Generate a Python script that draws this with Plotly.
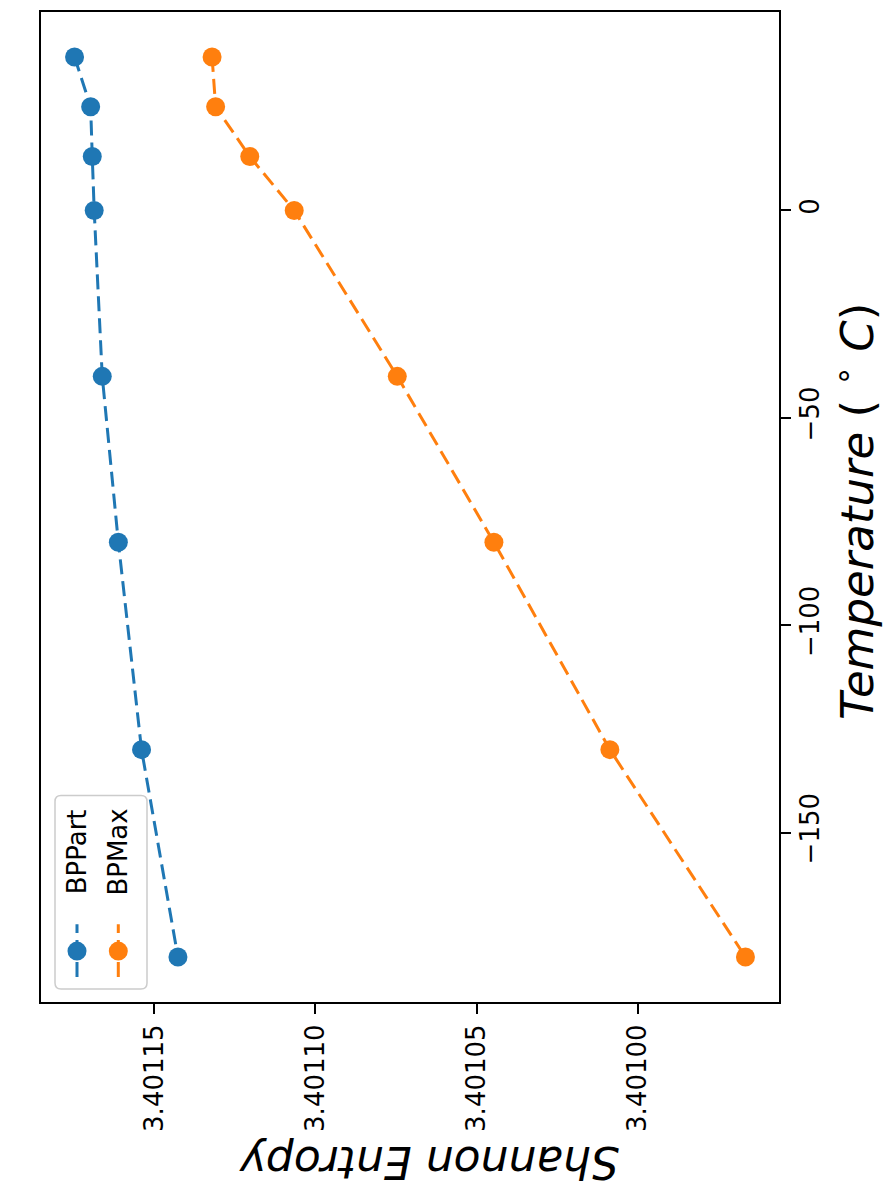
import plotly.graph_objects as go

# ---- data ----
temperature = [37, 25, 13, 0, -40, -80, -130, -180]
bppart = [3.4011748, 3.4011698, 3.4011693, 3.4011687, 3.4011662, 3.4011612, 3.4011540, 3.4011427]
bpmax = [3.4011321, 3.4011310, 3.4011204, 3.4011066, 3.4010746, 3.4010446, 3.4010086, 3.4009665]
series_names = ["BPPart", "BPMax"]
series_colors = ["#1f77b4", "#ff7f0e"]
entropy_ticks = [3.40100, 3.40105, 3.40110, 3.40115]
entropy_tick_labels = ["3.40100", "3.40105", "3.40110", "3.40115"]
temp_ticks = [-150, -100, -50, 0]
temp_tick_labels = ["\u2212150", "\u2212100", "\u221250", "0"]

# ---- layout geometry (pixels) ----
W, H = 884, 1198
L, R, T, B = 41, 779, 10, 1002
FONT = "DejaVu Sans"


def px(xp):
    return (xp - L) / (R - L)


def py(yp):
    return (B - yp) / (B - T)


def padded(vals):
    lo, hi = min(vals), max(vals)
    d = (hi - lo) * 0.05
    return lo - d, hi + d


elo, ehi = padded(bppart + bpmax)
tlo, thi = padded(temperature)

fig = go.Figure()
for name, vals, col in zip(series_names, [bppart, bpmax], series_colors):
    fig.add_trace(go.Scatter(
        x=vals, y=temperature, name=name, mode="lines+markers",
        line=dict(color=col, width=3, dash="15px,7px"),
        marker=dict(size=19, color=col),
        showlegend=False,
    ))

axis_common = dict(
    showline=True, linewidth=2, linecolor="black", mirror=True,
    ticks="outside", ticklen=10, tickwidth=2, tickcolor="black",
    showgrid=False, zeroline=False,
    tickfont=dict(family=FONT, size=26, color="black"),
    tickangle=-90,
)

fig.update_layout(
    width=W, height=H,
    margin=dict(l=L, r=W - R, t=T, b=H - B),
    paper_bgcolor="white", plot_bgcolor="white",
    xaxis=dict(range=[ehi, elo], tickvals=entropy_ticks, ticktext=entropy_tick_labels, **axis_common),
    yaxis=dict(range=[tlo, thi], side="right", tickvals=temp_ticks, ticktext=temp_tick_labels,
               ticklabelstandoff=-3, **axis_common),
    font=dict(family=FONT, color="black"),
)

# axis titles (rotated like the reference)
fig.add_annotation(xref="paper", yref="paper", x=px(429), y=py(1163),
                   text="<i>Shannon Entropy</i>", textangle=180, showarrow=False,
                   xanchor="center", yanchor="middle",
                   font=dict(family=FONT, size=44, color="black"))
fig.add_annotation(xref="paper", yref="paper", x=px(855), y=py(510),
                   text="<i>Temperature</i> ( <sup>\u2218</sup> <i>C</i>)", textangle=-90, showarrow=False,
                   xanchor="center", yanchor="middle",
                   font=dict(family=FONT, size=45, color="black"))

# ---- manual rotated legend ----
bx0, bx1, by0, by1, r = 55, 147, 795, 989, 6
path = (f"M {px(bx0 + r)},{py(by0)} L {px(bx1 - r)},{py(by0)} Q {px(bx1)},{py(by0)} {px(bx1)},{py(by0 + r)} "
        f"L {px(bx1)},{py(by1 - r)} Q {px(bx1)},{py(by1)} {px(bx1 - r)},{py(by1)} "
        f"L {px(bx0 + r)},{py(by1)} Q {px(bx0)},{py(by1)} {px(bx0)},{py(by1 - r)} "
        f"L {px(bx0)},{py(by0 + r)} Q {px(bx0)},{py(by0)} {px(bx0 + r)},{py(by0)} Z")
fig.add_shape(type="path", path=path, xref="paper", yref="paper",
              line=dict(color="#cccccc", width=1.5), fillcolor="rgba(255,255,255,0.8)", layer="above")

for i, (name, col) in enumerate(zip(series_names, series_colors)):
    cx = 77.0 + i * 41.3
    fig.add_shape(type="line", xref="paper", yref="paper",
                  x0=px(cx), y0=py(977), x1=px(cx), y1=py(924),
                  line=dict(color=col, width=3, dash="15px,7px"), layer="above")
    fig.add_shape(type="circle", xref="paper", yref="paper",
                  xsizemode="pixel", ysizemode="pixel",
                  xanchor=px(cx), yanchor=py(951),
                  x0=-9.5, x1=9.5, y0=-9.5, y1=9.5,
                  line=dict(color=col, width=0), fillcolor=col, layer="above")
    fig.add_annotation(xref="paper", yref="paper", x=px(cx), y=py(852),
                       text=name, textangle=-90, showarrow=False,
                       xanchor="center", yanchor="middle",
                       font=dict(family=FONT, size=26, color="black"))

fig.write_html("out.html")
